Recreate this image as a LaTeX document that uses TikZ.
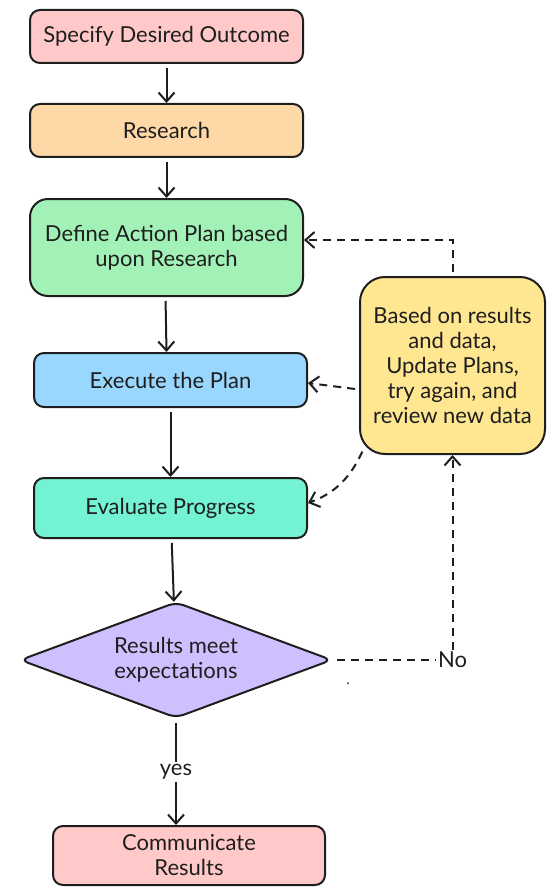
\documentclass[tikz,border=0pt]{standalone}
\usepackage{fontspec}
\setmainfont{Lato}
\usetikzlibrary{arrows.meta,shapes.geometric}
\definecolor{ink}{HTML}{1E1E1E}
\definecolor{rosefill}{HTML}{FFC9C9}
\definecolor{peachfill}{HTML}{FFD8A8}
\definecolor{mintfill}{HTML}{A2F2B8}
\definecolor{skyfill}{HTML}{99D7FF}
\definecolor{tealfill}{HTML}{73F3D3}
\definecolor{lilacfill}{HTML}{D0BFFF}
\definecolor{butterfill}{HTML}{FFE690}
\begin{document}
\begin{tikzpicture}[x=1pt,y=-1pt,
        every node/.style={font=\fontsize{22}{25}\selectfont,text=ink},
        box/.style={draw=ink,line width=2pt,rounded corners=10pt,minimum width=273pt,align=center,inner sep=0pt},
        decision/.style={diamond,draw=ink,line width=2pt,rounded corners=8pt,shape aspect=2.7,minimum width=312pt,minimum height=116pt,align=center,inner sep=0pt},
        flow/.style={draw=ink,line width=2pt,-{Straight Barb[length=9pt,width=16pt]},shorten <=4pt},
        loopback/.style={flow,dash pattern=on 8pt off 6pt},
        tag/.style={fill=white,inner sep=2pt}]
    \useasboundingbox (0,0) rectangle (554,896);
    \node[box,fill=rosefill,minimum height=53pt] (outcome) at (166.5,36.5) {Specify Desired Outcome};
    \node[box,fill=peachfill,minimum height=53pt] (research) at (166.5,130.5) {Research};
    \node[box,fill=mintfill,minimum height=97pt,rounded corners=18pt] (plan) at (166.5,247.5) {Define Action Plan based\\upon Research};
    \node[box,fill=skyfill,minimum height=54pt] (execute) at (170.5,380) {Execute the Plan};
    \node[box,fill=tealfill,minimum height=60pt] (evaluate) at (170.5,508) {Evaluate Progress};
    \node[decision,fill=lilacfill] (meet) at (176,660) {Results meet\\expectations};
    \node[box,fill=rosefill,minimum width=272pt,minimum height=59pt] (communicate) at (189,855.5) {Communicate\\Results};
    \node[box,fill=butterfill,minimum width=185pt,minimum height=177pt,rounded corners=25pt] (update) at (452.5,365.5)
        {Based on results\\and data,\\Update Plans,\\try again, and\\review new data};
    \draw[flow] (outcome) -- (research);
    \draw[flow] (research) -- (plan);
    \draw[flow] ([xshift=-1pt]plan.south) -- (plan.south |- execute.north);
    \draw[flow] (execute) -- (evaluate);
    \draw[flow] (evaluate) -- (meet);
    \draw[flow] (meet) -- (meet.south |- communicate.north) node[tag,pos=0.5] {yes};
    \draw[loopback] (update.north) |- ([yshift=7.5pt]plan.east);
    \draw[loopback] ([yshift=-24pt]update.west) -- ([yshift=-3pt]execute.east);
    \draw[loopback] ([shift={(5pt,7pt)}]update.south west) to[out=-115,in=20] ([yshift=5pt]evaluate.east);
    \draw[loopback] (meet.east) -| (update.south) node[tag,pos=0.5] {No};
    \fill[ink] (348,683) circle (1pt);
\end{tikzpicture}
\end{document}
